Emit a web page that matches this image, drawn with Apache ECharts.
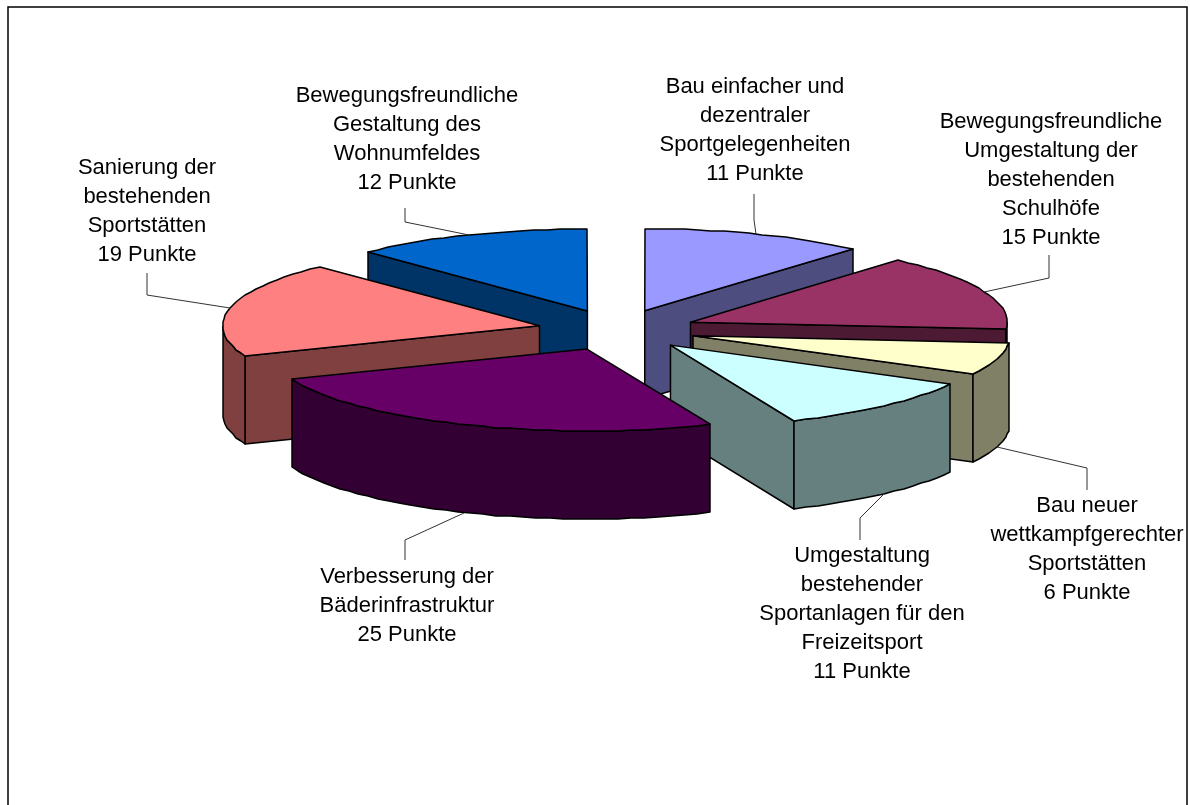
<!DOCTYPE html>
<html>
<head>
<meta charset="utf-8">
<style>html,body{margin:0;padding:0;background:#fff}#c{width:1190px;height:805px}</style>
<script src="https://cdn.jsdelivr.net/npm/echarts@6/dist/echarts.min.js"></script>
</head>
<body>
<div id="c"></div>
<script>
// Data, clockwise from 12 o'clock. Labels show them rounded.
const categories = [
  'Bau einfacher und\ndezentraler\nSportgelegenheiten',
  'Bewegungsfreundliche\nUmgestaltung der\nbestehenden\nSchulhöfe',
  'Bau neuer\nwettkampfgerechter\nSportstätten',
  'Umgestaltung\nbestehender\nSportanlagen für den\nFreizeitsport',
  'Verbesserung der\nBäderinfrastruktur',
  'Sanierung der\nbestehenden\nSportstätten',
  'Bewegungsfreundliche\nGestaltung des\nWohnumfeldes'
];
const values = [11.4, 15, 6.4, 10.9, 25.3, 18.9, 12.2];
const unit = 'Punkte';

// Styles and layout
const topColors  = ['#9999FF', '#993366', '#FFFFCC', '#CCFFFF', '#660066', '#FF8080', '#0066CC'];
const sideColors = ['#4D4D80', '#4D1A33', '#808066', '#668080', '#330033', '#804040', '#003366'];
const labelCenters = [[755,130],[1051,180],[1087,549],[862,614],[407,606],[147,211],[407,139]];
const leaderElbows = [
  [[754,220],[754,194]],
  [[1049,278],[1049,255]],
  [[1087,468],[1087,490]],
  [[860,518],[860,540]],
  [[405,540],[405,560]],
  [[147,295],[147,273]],
  [[405,222],[405,208]]
];
const PIE = {cx: 617, cy: 330, rx: 317, ry: 82, h: 88, explode: 0.25, step: 2.5};
const drawOrder = [0, 6, 1, 5, 2, 3, 4];

const total = values.reduce((a, b) => a + b, 0);
const startShares = values.map((_, i) => values.slice(0, i).reduce((a, b) => a + b, 0));
const toRad = share => share / total * 2 * Math.PI;

function renderSlice(params, api) {
  const i = api.value(1);
  const a0 = toRad(startShares[i]);
  const a1 = toRad(startShares[i] + api.value(0));
  const mid = (a0 + a1) / 2;
  const ax = PIE.cx + PIE.explode * PIE.rx * Math.sin(mid);
  const ay = PIE.cy - PIE.explode * PIE.ry * Math.cos(mid);
  const pt = (a, dy) => [Math.round(ax + PIE.rx * Math.sin(a)), Math.round(ay - PIE.ry * Math.cos(a) + (dy || 0))];
  const arc = (from, to, dy) => {
    const n = Math.max(1, Math.ceil((to - from) / (PIE.step * Math.PI / 180)));
    const out = [];
    for (let k = 0; k <= n; k++) out.push(pt(from + (to - from) * k / n, dy));
    return out;
  };
  const sideStyle = {fill: sideColors[i], stroke: '#000', lineWidth: 1.5, lineJoin: 'round'};
  const apex = [ax, ay], apexLow = [ax, ay + PIE.h];
  const children = [];
  if (Math.sin(a0) < -1e-9) {
    children.push({type: 'polygon', shape: {points: [apex, pt(a0), pt(a0, PIE.h), apexLow]}, style: sideStyle});
  }
  if (Math.sin(a1) > 1e-9) {
    children.push({type: 'polygon', shape: {points: [apex, pt(a1), pt(a1, PIE.h), apexLow]}, style: sideStyle});
  }
  const r0 = Math.max(a0, Math.PI / 2), r1 = Math.min(a1, Math.PI * 1.5);
  if (r1 > r0) {
    children.push({type: 'polygon',
      shape: {points: arc(r0, r1, 0).concat(arc(r0, r1, PIE.h).reverse())}, style: sideStyle});
  }
  children.push({type: 'polygon', shape: {points: [apex].concat(arc(a0, a1, 0))},
    style: {fill: topColors[i], stroke: '#000', lineWidth: 1.5, lineJoin: 'round'}});
  // Leader: starts on the rim at the slice bisector (bottom of the wall for front slices)
  const anchor = pt(mid, Math.cos(mid) < 0 ? PIE.h : 0);
  children.push({type: 'polyline', shape: {points: [anchor].concat(leaderElbows[i])},
    style: {fill: null, stroke: '#333', lineWidth: 1}});
  children.push({type: 'text', style: {
    text: categories[i] + '\n' + Math.round(api.value(0)) + ' ' + unit,
    x: labelCenters[i][0], y: labelCenters[i][1],
    align: 'center', verticalAlign: 'middle',
    fontFamily: '"Liberation Sans", Arial, sans-serif', fontSize: 22, lineHeight: 29, fill: '#000'
  }});
  return {type: 'group', children};
}

const chart = echarts.init(document.getElementById('c'), null, {renderer: 'canvas'});
chart.setOption({
  animation: false,
  backgroundColor: '#fff',
  graphic: [{type: 'rect', shape: {x: 8, y: 7, width: 1179, height: 830},
    style: {fill: 'none', stroke: '#000', lineWidth: 1.5}, silent: true}],
  series: [{
    type: 'custom',
    coordinateSystem: 'none',
    silent: true,
    renderItem: renderSlice,
    data: drawOrder.map(i => [values[i], i])
  }]
});
</script>
</body>
</html>
